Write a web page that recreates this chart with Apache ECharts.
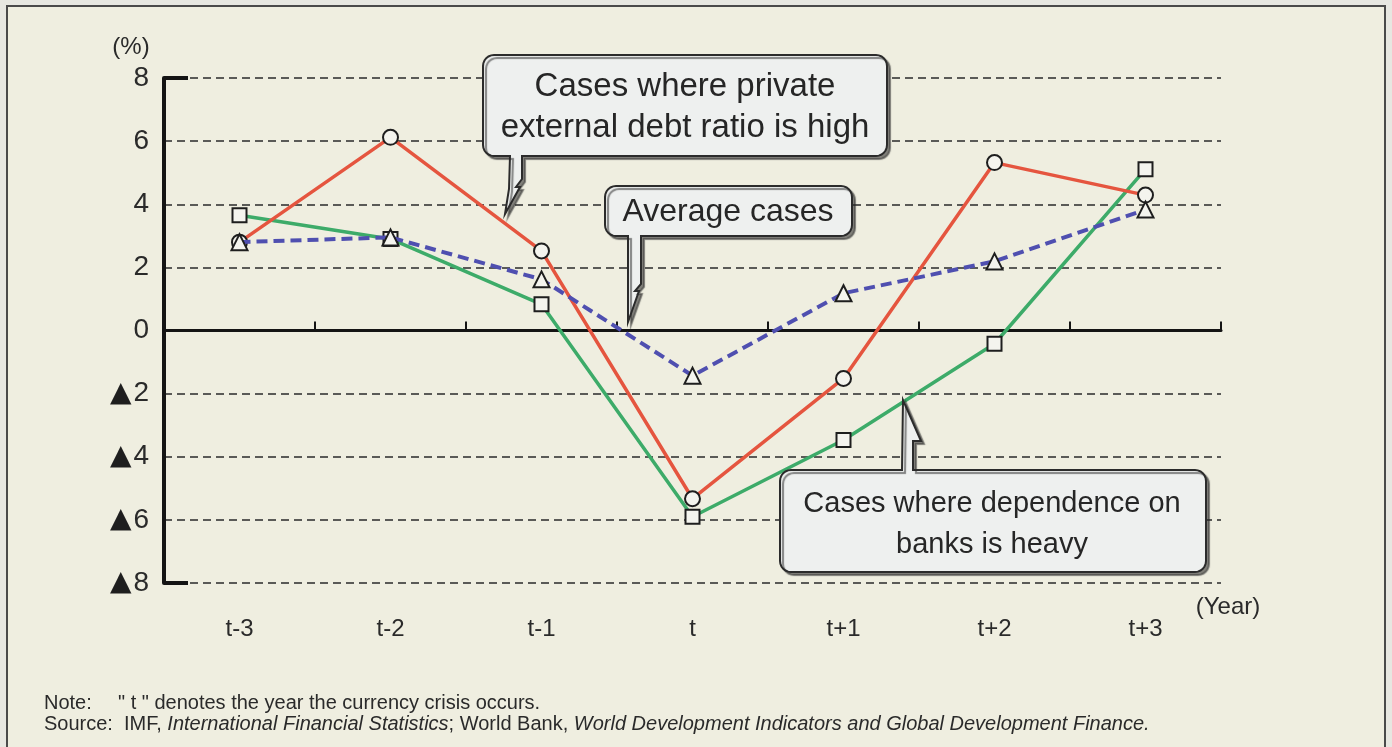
<!DOCTYPE html>
<html>
<head>
    <meta charset="utf-8">
    <title>Growth around currency crises</title>
    <script src="https://cdn.jsdelivr.net/npm/echarts@6/dist/echarts.min.js"></script>
    <style>
        html, body { margin: 0; padding: 0; background: #e7e7e1; }
        #chart { width: 1392px; height: 747px; }
    </style>
</head>
<body>
    <div id="chart"></div>
    <script type="text/javascript">
        // years relative to the crisis year t
        var years = ['t-3', 't-2', 't-1', 't', 't+1', 't+2', 't+3'];
        // private external debt ratio high (circles)
        var debtHigh = [2.8, 6.12, 2.52, -5.33, -1.52, 5.32, 4.29];
        // dependence on banks heavy (squares)
        var bankHeavy = [3.65, 2.9, 0.83, -5.9, -3.47, -0.42, 5.11];
        // average cases (triangles, dashed)
        var average = [2.8, 2.95, 1.62, -1.43, 1.18, 2.19, 3.83];
        var endTicks = [-8, 8];

        var bg = '#efeee0';
        var boxFill = '#eef0ef';
        var font = 'Liberation Sans, Arial, sans-serif';

        // rounded box outline, tail points go in clockwise order on the given side
        function callout(x0, y0, x1, y1, r, side, tail) {
            var pts = [];
            function arc(cx, cy, a0, a1) {
                for (var i = 0; i <= 6; i++) {
                    var a = a0 + (a1 - a0) * i / 6;
                    pts.push([cx + r * Math.cos(a), cy + r * Math.sin(a)]);
                }
            }
            var P = Math.PI;
            arc(x0 + r, y0 + r, P, 1.5 * P);
            if (side == 'top') pts = pts.concat(tail);
            arc(x1 - r, y0 + r, 1.5 * P, 2 * P);
            arc(x1 - r, y1 - r, 0, 0.5 * P);
            if (side == 'bottom') pts = pts.concat(tail);
            arc(x0 + r, y1 - r, 0.5 * P, P);
            return pts;
        }

        var boxStyle = {
            fill: boxFill,
            stroke: '#2b2b2b',
            lineWidth: 2,
            shadowColor: 'rgba(40,40,40,0.55)',
            shadowOffsetX: 3,
            shadowOffsetY: 3,
            shadowBlur: 1
        };

        function boxText(x, y, txt, size) {
            return {
                type: 'text', x: x, y: y, z: 101,
                style: { text: txt, font: size + 'px ' + font, fill: '#262626', align: 'center', verticalAlign: 'middle' }
            };
        }

        var myChart = echarts.init(document.getElementById('chart'));

        var marker = function (sym, size) {
            return {
                symbol: sym,
                symbolSize: size,
                itemStyle: { color: '#f4f4ee', borderColor: '#1e1e1e', borderWidth: 2 }
            };
        };

        var option = {
            backgroundColor: '#e7e7e1',
            animation: false,
            grid: { left: 164, right: 171, top: 78, bottom: 164 },
            xAxis: [{
                type: 'category',
                data: years,
                boundaryGap: true,
                axisLine: { show: false, onZero: false },
                axisTick: { show: false },
                axisLabel: { fontSize: 24, color: '#2a2a2a', fontFamily: font, margin: 34 }
            }, {
                type: 'category',
                data: years,
                position: 'bottom',
                boundaryGap: true,
                axisLine: { show: true, onZero: true, lineStyle: { color: '#141414', width: 3 } },
                axisTick: { show: true, inside: true, length: 9, lineStyle: { color: '#141414', width: 2 } },
                axisLabel: { show: false }
            }],
            yAxis: [{
                type: 'value',
                min: -8,
                max: 8,
                interval: 2,
                axisLine: { show: true, lineStyle: { color: '#141414', width: 4 } },
                axisTick: { show: false },
                splitLine: { lineStyle: { color: '#2a2a2a', width: 1.5, type: [8, 5] } },
                axisLabel: {
                    fontSize: 28, color: '#2a2a2a', fontFamily: font, margin: 15,
                    formatter: function (v) {
                        return v < 0 ? '{tri|▲}' + (-v) : String(v);
                    },
                    rich: { tri: { fontSize: 28, color: '#1e1e1e', fontFamily: 'DejaVu Sans', padding: [0, 2, 0, 0] } }
                }
            }, {
                // only the thick end ticks at 8 and -8
                type: 'value',
                position: 'left',
                min: -8,
                max: 8,
                interval: 2,
                axisLine: { show: false },
                splitLine: { show: false },
                axisLabel: { show: false },
                axisTick: {
                    show: true, inside: true, length: 24, customValues: endTicks,
                    lineStyle: { color: '#141414', width: 4 }
                }
            }],
            series: [{
                name: 'Cases where dependence on banks is heavy',
                type: 'line',
                data: bankHeavy,
                lineStyle: { color: '#3dab69', width: 3.5 },
                z: 3,
                ...marker('rect', 14)
            }, {
                name: 'Cases where private external debt ratio is high',
                type: 'line',
                data: debtHigh,
                lineStyle: { color: '#e5553f', width: 3.5 },
                z: 4,
                ...marker('circle', 15)
            }, {
                name: 'Average cases',
                type: 'line',
                data: average,
                lineStyle: { color: '#4f4fb0', width: 4, type: [11, 6] },
                z: 5,
                ...marker('triangle', 16)
            }],
            graphic: [
                // page frame
                { type: 'rect', z: -100, shape: { x: 7, y: 6, width: 1378, height: 760 },
                  style: { fill: bg, stroke: '#4a4a4a', lineWidth: 2 } },
                { type: 'text', x: 131, y: 47, style: { text: '(%)', font: '24px ' + font, fill: '#2a2a2a', align: 'center', verticalAlign: 'middle' } },
                { type: 'text', x: 1228, y: 607, style: { text: '(Year)', font: '24px ' + font, fill: '#2a2a2a', align: 'center', verticalAlign: 'middle' } },

                // callouts
                { type: 'polygon', z: 100, shape: { points: callout(483, 55, 887, 156, 11, 'bottom',
                    [[522, 156], [522, 179], [516, 187], [520, 187], [505, 214], [509, 189], [510, 156]]) }, style: boxStyle },
                boxText(685, 87, 'Cases where private', 33),
                boxText(685, 128, 'external debt ratio is high', 33),

                { type: 'polygon', z: 100, shape: { points: callout(605, 186, 852, 236, 11, 'bottom',
                    [[641, 236], [641, 284], [635, 291], [639, 291], [628, 322], [628, 236]]) }, style: boxStyle },
                boxText(728, 212, 'Average cases', 32),

                { type: 'polygon', z: 100, shape: { points: callout(780, 470, 1206, 572, 11, 'top',
                    [[902, 470], [903, 400], [921, 441], [913, 441], [913, 470]]) }, style: boxStyle },
                boxText(992, 504, 'Cases where dependence on', 29),
                boxText(992, 545, 'banks is heavy', 29),

                // footnote
                { type: 'text', x: 44, y: 703, style: { text: 'Note:', font: '20px ' + font, fill: '#2a2a2a', verticalAlign: 'middle' } },
                { type: 'text', x: 118, y: 703, style: { text: '" t " denotes the year the currency crisis occurs.', font: '20px ' + font, fill: '#2a2a2a', verticalAlign: 'middle' } },
                { type: 'text', x: 44, y: 724, style: { text: 'Source:', font: '20px ' + font, fill: '#2a2a2a', verticalAlign: 'middle' } },
                { type: 'text', x: 124, y: 724, style: {
                    text: 'IMF, {i|International Financial Statistics}; World Bank, {i|World Development Indicators and Global Development Finance.}',
                    font: '20px ' + font, fill: '#2a2a2a', verticalAlign: 'middle',
                    rich: { i: { fontStyle: 'italic', fontSize: 20, fontFamily: font, fill: '#2a2a2a' } }
                } }
            ]
        };

        myChart.setOption(option);
    </script>
</body>
</html>
